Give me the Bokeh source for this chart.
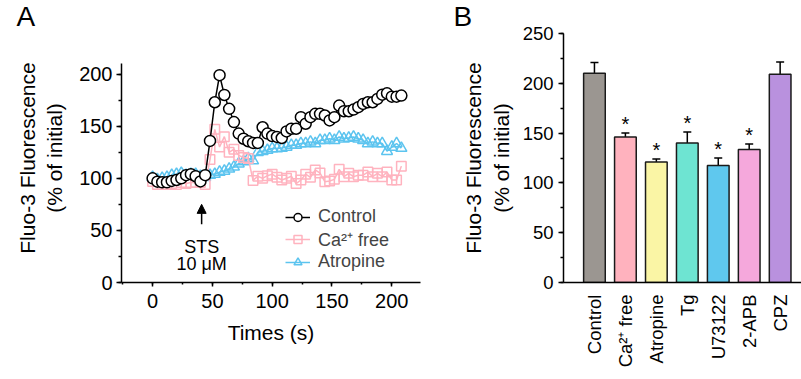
from math import pi
from bokeh.plotting import figure
from bokeh.layouts import row
from bokeh.models import (SingleIntervalTicker, FixedTicker, Label, Arrow, NormalHead,
                          Whisker, TeeHead, ColumnDataSource, Range1d)
from bokeh.embed import file_html
from bokeh.resources import INLINE

FONT = "Liberation Sans"

# ---------------- Panel A data ----------------
times = [0, 4, 8, 12, 16, 20, 24, 28, 32, 36, 40, 44, 48, 52, 56, 60, 64, 68, 72, 76,
         80, 84, 88, 92, 96, 100, 104, 108, 112, 116, 120, 124, 128, 132, 136, 140,
         144, 148, 152, 156, 160, 164, 168, 172, 176, 180, 184, 188, 192, 196, 200,
         204, 208]
control = [100, 96.8, 96.2, 96.2, 97.5, 98.4, 100, 103, 104, 102, 97, 103,
           135.9, 173, 199, 180, 166.7, 154, 142.9, 138, 135.6, 134, 134,
           149, 142.9, 140.6, 139.7, 138.7, 145, 147.6, 147.6,
           158.7, 152.4, 158.7, 161.9, 161.9, 160.3, 155.6, 158.7,
           169.8, 164.4, 164.4, 166, 168.3, 171.4, 173, 173,
           176.2, 180.3, 181.6, 178.4, 178.4, 179.4]
ca_free = [97, 94, 94, 94, 95, 94, 96, 95, 96, 96, 96, 94,
           118, 147, 130, 140, 125, 128, 122, 120, 119, 98,
           102, 100, 102.5, 104, 101, 98.4, 100, 102, 95, 98.4, 104, 101, 108,
           105, 96.8, 97.5, 99, 108.6, 101.6, 104.8, 101.6, 103, 103, 106, 101.6,
           104.8, 101.6, 106, 98.4, 98.4, 111.7]
atropine = [101, 99, 100, 101, 103, 104, 105, 103, 104, 104, 102, 101,
            103, 104, 106, 107, 109, 111, 114, 116, 119, 117,
            125, 126, 127, 128.6, 128.6, 129, 130, 131.8, 131.8, 133.4, 133.4,
            135, 133.4, 136.5, 136.5, 138, 136.5, 139.7, 138, 138.6, 139.7, 138,
            136.5, 133.4, 135, 133.4, 133.4, 126, 130, 133.4, 129]
series_names = ["Control", "Ca\u00b2\u207a free", "Atropine"]
stim_time = 41
stim_text = ["STS", "10 \u03bcM"]
y_label = "Fluo-3 Fluorescence\n(% of initial)"
panel_letters = ["A", "B"]

# ---------------- Panel B data ----------------
categories = ["Control", "Ca\u00b2\u207a free", "Atropine", "Tg", "U73122", "2-APB", "CPZ"]
means = [210, 146, 121, 140, 117.5, 133.5, 209]
sems = [11, 4, 3, 11, 7.5, 5.5, 12.5]
signif = ["", "*", "*", "*", "*", "*", ""]
bar_colors = ["#9b9691", "#ffb2be", "#faf5a5", "#6ee4d2", "#5fc8ee", "#f5a8dc", "#b991de"]

PINK = "#ffb3bf"
BLUE = "#5cc4ef"
H = 379
BT, BB = 31, 97


def style_axes(p, tick_size):
    for ax in (p.xaxis[0], p.yaxis[0]):
        ax.axis_line_width = 1.5
        ax.axis_line_color = "black"
        ax.major_tick_line_width = 1.5
        ax.minor_tick_line_width = 1.5
        ax.major_tick_line_color = "black"
        ax.minor_tick_line_color = "black"
        ax.major_tick_in = 0
        ax.minor_tick_in = 0
        ax.major_label_text_font = FONT
        ax.major_label_text_font_size = tick_size
        ax.major_label_text_color = "black"
        ax.axis_label_text_font = FONT
        ax.axis_label_text_font_size = "21px"
        ax.axis_label_text_font_style = "normal"
        ax.axis_label_text_color = "black"
    p.grid.visible = False
    p.outline_line_color = None


def style_title(p, offset):
    t = p.title
    t.text_font = FONT
    t.text_font_size = "28px"
    t.text_font_style = "normal"
    t.text_color = "black"
    t.align = "left"
    t.offset = offset
    t.standoff = 0
    t.vertical_align = "top"


# ---------------- Panel A ----------------
pA = figure(width=430, height=H, output_backend="svg", toolbar_location=None,
            title=panel_letters[0],
            x_range=Range1d(-26, 224), y_range=Range1d(0, 239),
            min_border_left=121, min_border_right=10, min_border_top=BT,
            min_border_bottom=BB)
style_axes(pA, "20px")
style_title(pA, -105)
pA.xaxis.ticker = SingleIntervalTicker(interval=50, num_minor_ticks=2)
pA.yaxis.ticker = SingleIntervalTicker(interval=50, num_minor_ticks=2)
pA.yaxis.bounds = (0, 210)
pA.xaxis.major_tick_out = 4
pA.xaxis.minor_tick_out = 2
pA.xaxis.major_label_standoff = 7
pA.yaxis.major_tick_out = 5
pA.yaxis.minor_tick_out = 3
pA.yaxis.major_label_standoff = 4
pA.xaxis.axis_label = "Times (s)"
pA.xaxis.axis_label_standoff = 10
pA.yaxis.axis_label = y_label
pA.yaxis.axis_label_standoff = 10

pA.line(times, atropine, line_color=BLUE, line_width=1.5, legend_label=series_names[2])
pA.scatter(times, atropine, marker="triangle", size=11, line_color=BLUE, line_width=1.5,
           fill_color=None, legend_label=series_names[2])
pA.line(times, ca_free, line_color=PINK, line_width=1.5, legend_label=series_names[1])
pA.scatter(times, ca_free, marker="square", size=9.5, line_color=PINK, line_width=1.5,
           fill_color=None, legend_label=series_names[1])
pA.line(times, control, line_color="black", line_width=1.5, legend_label=series_names[0])
pA.scatter(times, control, marker="circle", size=11, line_color="black", line_width=1.5,
           fill_color="white", legend_label=series_names[0])

leg = pA.legend[0]
leg.location = (164, 10)
leg.items = [leg.items[2], leg.items[1], leg.items[0]]
leg.label_text_font = FONT
leg.label_text_font_size = "18px"
leg.glyph_width = 25
leg.glyph_height = 20
leg.label_height = 20
leg.label_standoff = 8
leg.spacing = 0
leg.padding = 0
leg.margin = 0
leg.border_line_color = None
leg.background_fill_alpha = 0

pA.add_layout(Arrow(end=NormalHead(size=9, fill_color="black", line_color="black", line_width=1),
                    x_start=stim_time, y_start=56, x_end=stim_time, y_end=75,
                    line_width=1.5, line_color="black"))
for txt, yy in zip(stim_text, [34.3, 17.5]):
    pA.add_layout(Label(x=stim_time, y=yy, text=txt, text_align="center",
                        text_baseline="alphabetic", text_font=FONT,
                        text_font_size="18px", text_color="black"))

# ---------------- Panel B ----------------
xpos = [i + 1 for i in range(len(categories))]
src = ColumnDataSource(dict(x=xpos, top=means, upper=[m + s for m, s in zip(means, sems)],
                            color=bar_colors, star=signif))

pB = figure(width=371, height=H, output_backend="svg", toolbar_location=None,
            title=panel_letters[1],
            x_range=Range1d(0, 7.69), y_range=Range1d(0, 250),
            min_border_left=133, min_border_right=0, min_border_top=BT,
            min_border_bottom=BB)
style_axes(pB, "18.5px")
style_title(pB, -110)
pB.yaxis.ticker = SingleIntervalTicker(interval=50, num_minor_ticks=2)
pB.yaxis.major_tick_out = 5
pB.yaxis.minor_tick_out = 3
pB.yaxis.major_label_standoff = 5
pB.yaxis.axis_label = y_label
pB.yaxis.axis_label_standoff = 7
pB.xaxis.ticker = FixedTicker(ticks=xpos, minor_ticks=[])
pB.xaxis.major_label_overrides = {x: c for x, c in zip(xpos, categories)}
pB.xaxis.major_tick_out = 0
pB.xaxis.major_label_orientation = pi / 2
pB.xaxis.major_label_standoff = 12

pB.vbar(x="x", top="top", width=0.7, bottom=0, fill_color="color",
        line_color="#1a1a1a", line_width=1.5, source=src)
pB.add_layout(Whisker(base="x", lower="top", upper="upper", source=src,
                      line_color="black", line_width=1.5,
                      upper_head=TeeHead(size=8, line_width=1.5, line_color="black"),
                      lower_head=None))
pB.text(x="x", y="upper", text="star", source=src, text_align="center",
        text_baseline="alphabetic", y_offset=-9, text_font_size="20px",
        text_color="black", text_font={"value": FONT})

layout = row(pA, pB)
open("out.html", "w").write(file_html(layout, INLINE))
